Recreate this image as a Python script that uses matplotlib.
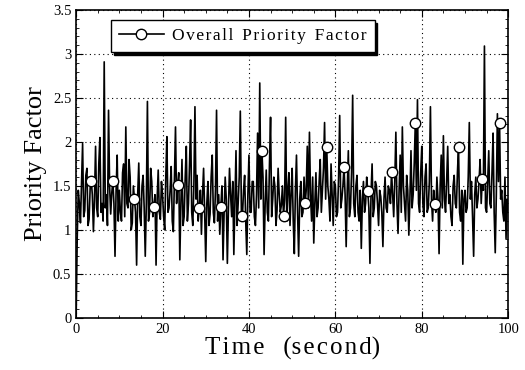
import numpy as np
import matplotlib
matplotlib.use("Agg")
import matplotlib.pyplot as plt
from matplotlib.ticker import MultipleLocator

plt.rcParams['font.family'] = ['Liberation Serif', 'DejaVu Serif']

# priority factor sampled every 0.25 s from 0 to 100 s
time = np.arange(0, 100.25, 0.25)
factor = [
    0.00, 0.90, 1.45, 1.30, 1.08, 1.55, 1.98, 1.15, 1.22, 1.62, 1.70, 1.05, 1.12, 1.48, 1.56, 1.40, 0.98, 1.35, 1.95, 1.25,
    1.15, 1.75, 2.05, 1.20, 1.30, 1.10, 2.91, 1.25, 1.40, 1.05, 2.36, 1.50, 1.18, 1.42, 1.56, 1.30, 0.70, 1.45, 1.85, 1.10,
    1.45, 1.20, 1.10, 1.65, 1.75, 1.15, 2.17, 1.30, 1.25, 1.80, 1.60, 1.00, 1.08, 1.50, 1.35, 1.20, 0.60, 1.40, 1.76, 1.15,
    1.05, 1.50, 1.62, 1.25, 0.70, 1.30, 2.46, 1.10, 1.20, 1.70, 1.55, 1.15, 1.26, 1.40, 0.60, 1.35, 1.68, 1.20, 1.12, 1.55,
    1.40, 1.15, 1.00, 1.60, 2.06, 1.20, 1.25, 1.45, 1.72, 1.10, 0.98, 1.55, 2.17, 1.30, 1.51, 1.65, 0.66, 1.30, 1.80, 1.05,
    1.15, 1.60, 1.95, 1.10, 1.30, 1.75, 2.25, 1.20, 1.05, 1.50, 2.40, 1.35, 1.62, 1.10, 1.25, 1.45, 0.95, 1.40, 1.70, 1.20,
    0.64, 1.30, 1.55, 1.05, 1.18, 1.60, 1.85, 1.20, 1.08, 1.45, 2.36, 1.10, 1.40, 0.95, 1.26, 1.50, 0.66, 1.20, 1.60, 1.35,
    0.62, 1.25, 1.70, 1.40, 1.15, 1.55, 0.72, 1.30, 1.90, 1.05, 1.30, 1.60, 2.35, 1.20, 1.16, 1.45, 1.62, 1.10, 0.72, 1.40,
    1.85, 1.20, 1.20, 1.55, 1.55, 1.15, 1.05, 1.40, 2.10, 1.25, 2.67, 1.35, 1.90, 1.60, 0.72, 1.30, 1.68, 1.20, 1.10, 1.75,
    2.28, 1.15, 1.35, 1.60, 1.50, 1.05, 1.22, 1.70, 1.40, 1.20, 1.28, 1.50, 1.16, 1.35, 2.28, 1.10, 1.45, 1.65, 1.05, 1.40,
    1.70, 1.10, 0.73, 1.45, 1.85, 1.20, 0.70, 1.35, 1.55, 1.15, 1.20, 1.60, 1.30, 1.45, 1.95, 1.25, 2.11, 1.40, 1.10, 1.60,
    0.85, 1.30, 1.65, 1.15, 1.25, 1.55, 1.80, 1.20, 1.45, 1.70, 2.22, 1.35, 1.94, 1.50, 1.35, 1.10, 1.75, 1.40, 1.05, 1.55,
    1.50, 1.15, 1.20, 1.60, 2.30, 1.25, 1.35, 1.50, 1.72, 1.40, 0.81, 1.45, 1.90, 1.15, 1.25, 1.65, 2.53, 1.30, 1.15, 1.50,
    1.62, 1.20, 1.10, 1.45, 0.79, 1.35, 1.55, 1.20, 1.30, 1.60, 1.44, 1.25, 0.62, 1.40, 1.75, 1.15, 1.25, 1.55, 1.50, 1.30,
    1.05, 1.45, 1.38, 1.20, 0.81, 1.35, 1.60, 1.25, 1.20, 1.50, 1.45, 1.30, 1.66, 1.40, 1.15, 1.55, 2.11, 1.30, 0.96, 1.45,
    1.85, 1.20, 2.17, 1.50, 1.30, 1.10, 1.62, 1.45, 0.94, 1.35, 1.90, 1.25, 1.40, 1.75, 2.21, 1.45, 2.48, 1.30, 1.20, 1.65,
    1.95, 1.30, 1.15, 1.60, 1.75, 1.20, 1.25, 1.55, 2.40, 1.35, 1.10, 1.45, 1.29, 1.20, 1.60, 1.35, 0.73, 1.50, 1.85, 1.25,
    2.07, 1.35, 1.20, 1.55, 1.95, 1.30, 1.40, 1.15, 1.05, 1.50, 1.62, 1.30, 1.25, 1.65, 1.94, 1.20, 1.10, 1.45, 0.61, 1.35,
    1.45, 1.20, 1.25, 1.60, 2.22, 1.35, 1.55, 1.15, 0.70, 1.40, 1.60, 1.25, 1.35, 1.55, 1.80, 1.30, 1.58, 1.45, 3.09, 1.25,
    1.20, 1.55, 1.90, 1.30, 1.25, 1.65, 2.10, 1.20, 0.74, 1.40, 2.32, 1.55, 2.22, 1.35, 1.45, 1.20, 1.10, 1.60, 0.90, 1.35,
    1.20,
]
marker_times = [3.5, 8.5, 13.5, 18, 23.5, 28.5, 33.5, 38.5, 43, 48,
                53, 58, 62, 67.5, 73, 78.5, 83, 88.5, 94, 98]
marker_idx = list(np.searchsorted(time, marker_times))

legend_label = '\u200a'.join('Overall') + '  ' + '\u200a'.join('Priority') + '  ' + '\u200a'.join('Factor')
xlabel = '\u200a'.join('Time') + '   (' + '\u200a'.join('second') + ')'

fig = plt.figure(figsize=(5.25, 3.7), dpi=100)
ax = fig.add_axes([0.145, 0.141, 0.823, 0.832])

ax.plot(time, factor, color='black', lw=1.2, marker='o', markevery=marker_idx,
        markersize=7.5, markerfacecolor='white', markeredgecolor='black',
        markeredgewidth=1.0, label=legend_label)

ax.set_xlim(0, 100)
ax.set_ylim(0, 3.5)
ax.xaxis.set_major_locator(MultipleLocator(20))
ax.xaxis.set_minor_locator(MultipleLocator(5))
ax.yaxis.set_minor_locator(MultipleLocator(0.1))
ax.set_yticks([0, 0.5, 1, 1.5, 2, 2.5, 3, 3.5])
ax.set_yticklabels(['0', '0.5', '1', '1.5', '2', '2.5', '3', '3.5'])
ax.tick_params(which='both', direction='in', top=True, right=True, labelsize=10.5)
ax.tick_params(which='major', length=5)
ax.tick_params(which='minor', length=2.5)
ax.grid(True, which='major', color='black', linestyle=(0, (1, 3)), lw=0.8)
for s in ax.spines.values():
    s.set_linewidth(1.2)

ax.set_xlabel(xlabel, fontsize=18, labelpad=1)
ax.set_ylabel('Priority Factor', fontsize=19, labelpad=4)

leg = ax.legend(loc='upper left', bbox_to_anchor=(0.06, 0.995), fancybox=False,
                shadow={'color': 'black', 'alpha': 1}, framealpha=1,
                edgecolor='black', fontsize=12.5, handlelength=2.6,
                handletextpad=0.5, borderpad=0.45)
leg.get_frame().set_linewidth(1.0)

fig.savefig('out.png', dpi=100)
